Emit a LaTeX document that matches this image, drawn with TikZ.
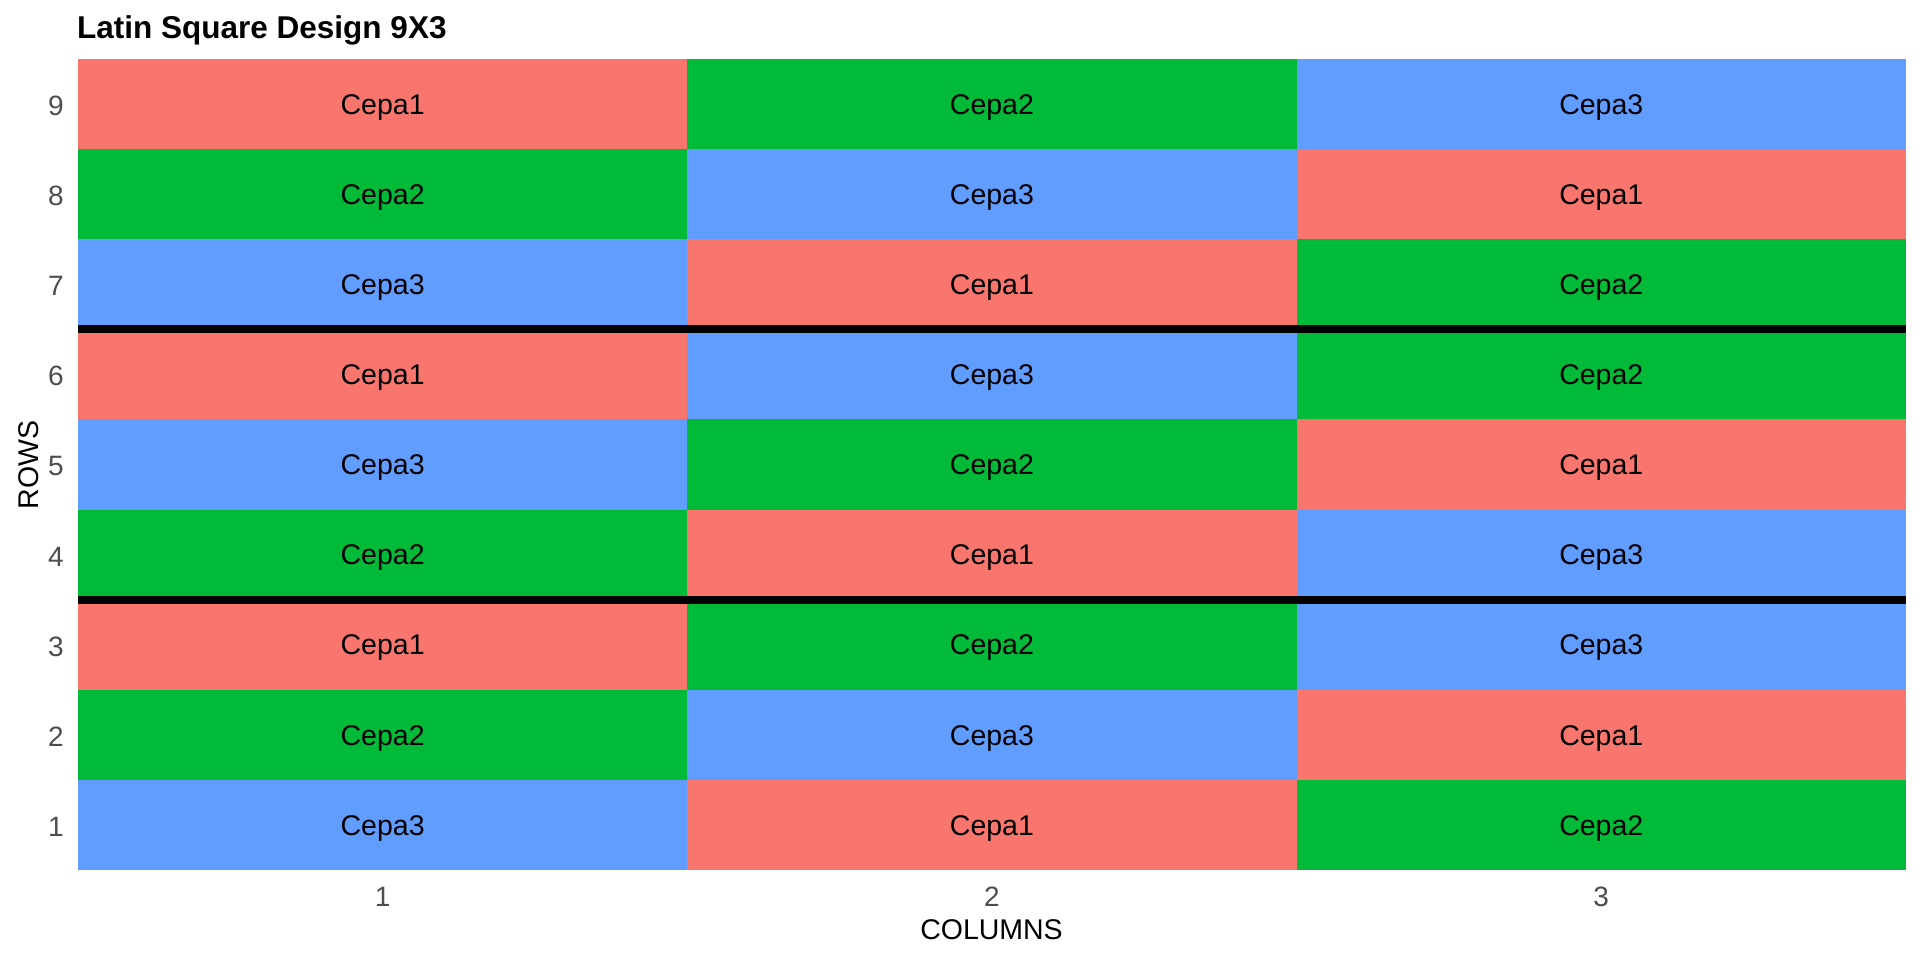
\documentclass[tikz,border=0pt]{standalone}
\usepackage{fontspec}
\setmainfont{Liberation Sans}
\definecolor{cred}{HTML}{F8766D}
\definecolor{cgreen}{HTML}{00BA38}
\definecolor{cblue}{HTML}{619CFF}
\definecolor{tickgrey}{HTML}{4D4D4D}
\begin{document}
\begin{tikzpicture}[x=1pt,y=-1pt,
  cell/.style={draw=none,inner sep=0pt,outer sep=0pt,minimum width=609.3pt,minimum height=90.11pt,
    text height=20.4pt,text depth=-2.4pt,font=\fontsize{28.5}{30}\selectfont,anchor=north west},
  c1/.style={cell,fill=cred},
  c2/.style={cell,fill=cgreen},
  c3/.style={cell,fill=cblue},
  tick/.style={inner sep=0pt,text=tickgrey,font=\fontsize{28}{30}\selectfont},
  axlab/.style={inner sep=0pt,font=\fontsize{28.5}{30}\selectfont},
  sep/.style={line width=8pt,black}]
\useasboundingbox[fill=white] (0,0) rectangle (1920,960);
\foreach \r/\a/\b/\c [count=\i from 0] in {9/1/2/3,8/2/3/1,7/3/1/2,6/1/3/2,5/3/2/1,4/2/1/3,3/1/2/3,2/2/3/1,1/3/1/2}{
  \node[c\a] (r\r c1) at (78,59+\i*90.11) {Cepa\a};
  \node[c\b] (r\r c2) at (687.3,59+\i*90.11) {Cepa\b};
  \node[c\c] (r\r c3) at (1296.6,59+\i*90.11) {Cepa\c};
  \node[tick,anchor=base east] (y\r) at (64,115.5+\i*90.11) {\r};
}
% separator lines
\coordinate (s1a) at (78,329.3);
\coordinate (s1b) at (1906,329.3);
\coordinate (s2a) at (78,599.6);
\coordinate (s2b) at (1906,599.6);
\draw[sep] (s1a) -- (s1b);
\draw[sep] (s2a) -- (s2b);
% x ticks
\node[tick,anchor=base] (x1) at (382.6,906.5) {1};
\node[tick,anchor=base] (x2) at (991.9,906.5) {2};
\node[tick,anchor=base] (x3) at (1601.2,906.5) {3};
% axis labels
\node[axlab,anchor=base] (xlab) at (991.5,939.5) {COLUMNS};
\node[axlab,anchor=base,rotate=90] (ylab) at (38,465) {ROWS};
% title
\node[inner sep=0pt,anchor=base west,font=\fontsize{31.5}{33}\selectfont\bfseries] (title) at (77,39) {Latin Square Design 9X3};
\end{tikzpicture}
\end{document}
